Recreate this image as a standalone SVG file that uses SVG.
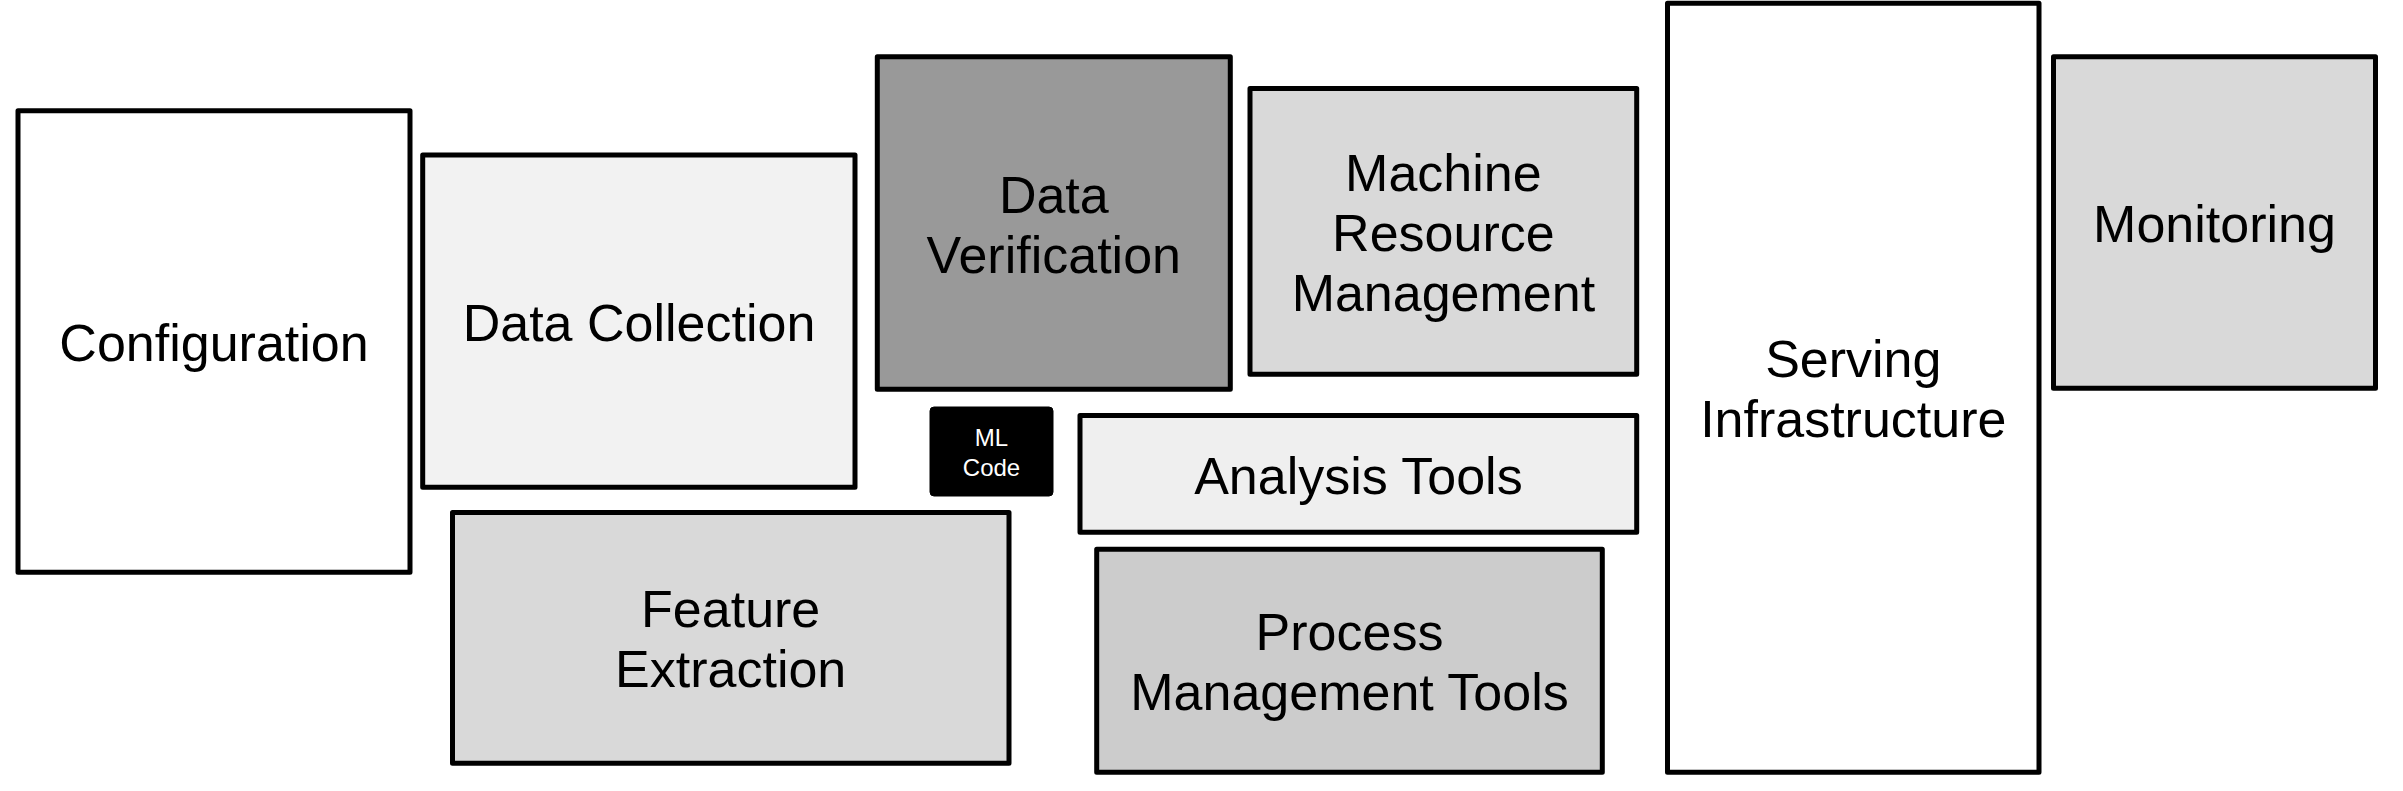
<svg xmlns="http://www.w3.org/2000/svg" width="2403" height="791" viewBox="0 0 2403 791">
  <style>
    .box { stroke: #000000; stroke-width: 5; stroke-linejoin: round; }
    .lbl { font-family: "Liberation Sans", Arial, Helvetica, sans-serif; font-size: 52px; fill: #000000; text-anchor: middle; }
    .small { font-family: "Liberation Sans", Arial, Helvetica, sans-serif; font-size: 24px; fill: #ffffff; text-anchor: middle; }
  </style>
  <rect x="0" y="0" width="2403" height="791" fill="#ffffff"/>
  <g id="connectors"></g>
  <g id="configuration">
    <rect class="box" x="18" y="110.7" width="392" height="461.6" fill="#ffffff"/>
    <text class="lbl" x="214" y="361">Configuration</text>
  </g>
  <g id="data-collection">
    <rect class="box" x="422.7" y="155" width="432.3" height="332.3" fill="#f2f2f2"/>
    <text class="lbl" x="639" y="340.7">Data Collection</text>
  </g>
  <g id="feature-extraction">
    <rect class="box" x="452.5" y="512.6" width="556.5" height="250.6" fill="#d9d9d9"/>
    <text class="lbl" x="730.7" y="627">Feature</text>
    <text class="lbl" x="730.7" y="687.3">Extraction</text>
  </g>
  <g id="data-verification">
    <rect class="box" x="877.3" y="56.7" width="353" height="332.6" fill="#999999"/>
    <text class="lbl" x="1053.8" y="212.5">Data</text>
    <text class="lbl" x="1053.8" y="272.5">Verification</text>
  </g>
  <g id="ml-code">
    <rect x="930" y="407" width="123" height="89" rx="4" ry="4" fill="#000000" stroke="#000000" stroke-width="1"/>
    <text class="small" x="991.5" y="446">ML</text>
    <text class="small" x="991.5" y="475.7">Code</text>
  </g>
  <g id="machine-resource-management">
    <rect class="box" x="1250" y="88.6" width="386.7" height="285.7" fill="#d9d9d9"/>
    <text class="lbl" x="1443.4" y="191">Machine</text>
    <text class="lbl" x="1443.4" y="251">Resource</text>
    <text class="lbl" x="1443.4" y="311">Management</text>
  </g>
  <g id="analysis-tools">
    <rect class="box" x="1080" y="415.6" width="556.7" height="116.7" fill="#efefef"/>
    <text class="lbl" x="1358.4" y="493.5">Analysis Tools</text>
  </g>
  <g id="process-management-tools">
    <rect class="box" x="1096.7" y="549.3" width="505.6" height="223" fill="#cccccc"/>
    <text class="lbl" x="1349.5" y="650">Process</text>
    <text class="lbl" x="1349.5" y="710.3">Management Tools</text>
  </g>
  <g id="serving-infrastructure">
    <rect class="box" x="1667.5" y="3.3" width="371.5" height="769" fill="#ffffff"/>
    <text class="lbl" x="1853.3" y="377.3">Serving</text>
    <text class="lbl" x="1853.3" y="437.3">Infrastructure</text>
  </g>
  <g id="monitoring">
    <rect class="box" x="2053.5" y="56.7" width="322" height="331.6" fill="#d9d9d9"/>
    <text class="lbl" x="2214.5" y="242">Monitoring</text>
  </g>
</svg>
